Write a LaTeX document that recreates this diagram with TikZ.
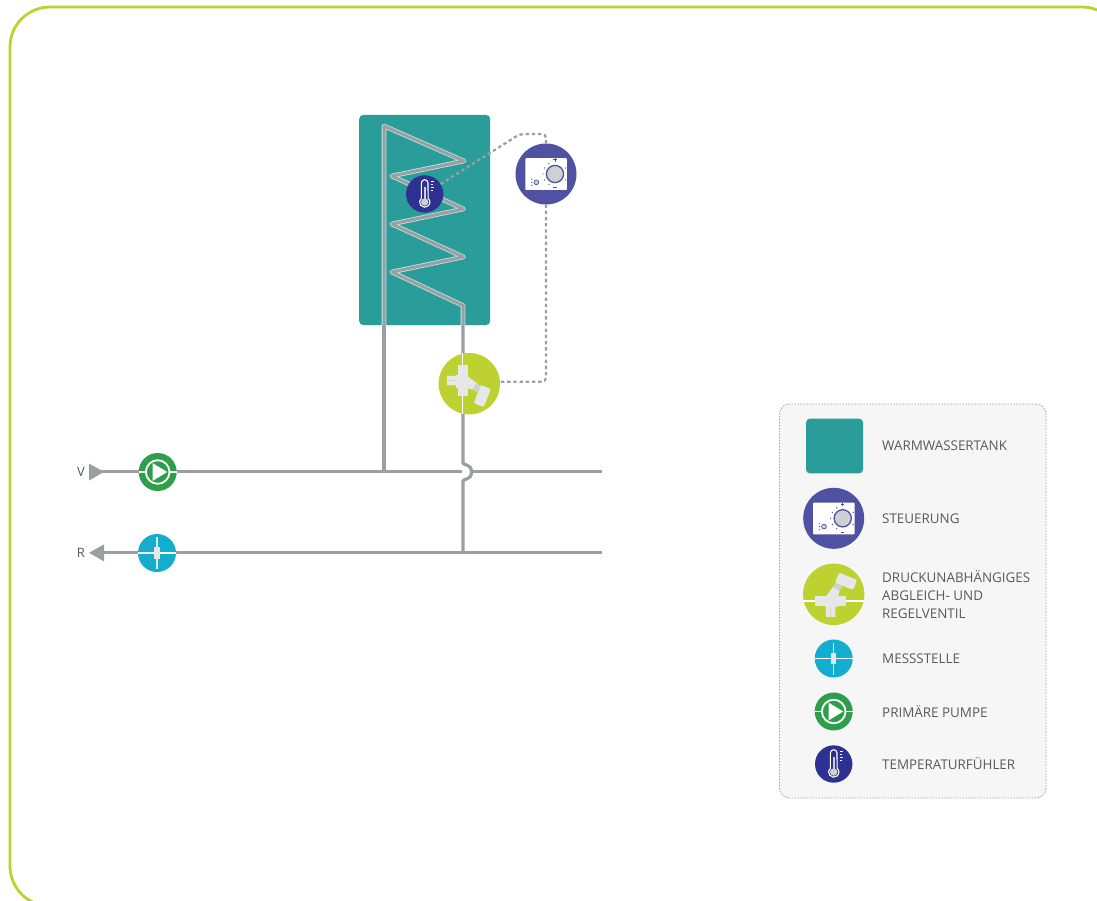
\documentclass[tikz,border=0pt]{standalone}
\usepackage{fontspec}
\setmainfont{Open Sans}
\definecolor{lime}{HTML}{BDD231}
\definecolor{tanktl}{HTML}{2A9D9A}
\definecolor{ctrlb}{HTML}{4F51A3}
\definecolor{thermb}{HTML}{2E3192}
\definecolor{pumpg}{HTML}{2E9E4A}
\definecolor{messb}{HTML}{12ADCF}
\definecolor{pipeg}{HTML}{9C9EA2}
\definecolor{lite}{HTML}{E6E7E8}
\definecolor{dial}{HTML}{CFD0D2}
\definecolor{txt}{HTML}{58595B}
\definecolor{legbg}{HTML}{F6F6F6}
\tikzset{
 disc/.style={circle,draw=none,inner sep=0pt,outer sep=0pt,minimum size=#1},
 tankbox/.style={draw=none,fill=tanktl,rounded corners=4pt,inner sep=0pt,outer sep=0pt},
 pipe/.style={draw=pipeg,line width=3.2pt},
 cased/.style={preaction={draw=white!70!tanktl,line width=4.6pt,line join=round},draw=pipeg,line width=3pt,line join=round},
 ctl/.style={draw=pipeg,line width=2.2pt,dash pattern=on 3.4pt off 2.8pt,rounded corners=4pt},
 lbl/.style={text=txt,font=\fontsize{13.4}{18}\selectfont,anchor=west,inner sep=0pt,align=left},
 pics/ctrlicon/.style={code={
   \fill[white,rounded corners=.8pt] (-20.6,-15.8) rectangle (20.8,16);
   \draw[ctrlb,fill=dial,line width=1.3pt] (9,0) circle (8.6);
   \foreach \a in {120,150,180,210,240,-30,30}{\fill[ctrlb] (\a:12)++(9,0) circle (.7);}
   \draw[ctrlb,line width=1pt] (7.3,-14)--(10.7,-14) (9,-15.7)--(9,-12.3) (7.3,13.8)--(10.7,13.8);
   \draw[ctrlb,fill=dial,line width=.7pt] (-9.7,8.3) circle (2.4);
   \foreach \y in {5.2,8.3,11.4}{\fill[ctrlb] (-14.2,\y) circle (.7);}
 }},
 pics/thermicon/.style={code={
   \draw[white,line width=1.1pt] (-3.3,4) arc (230:-50:5.2) -- (3.3,-11) arc (0:-180:3.3) -- cycle;
   \fill[dial] (0,8) circle (3.7);
   \fill[dial] (-1.2,-7) rectangle (1.2,8);
   \foreach \y/\l in {-12.5/3.2,-9.5/2.2,-6.5/3.2,-3.5/2.2}{\draw[white,line width=.9pt] (6,\y)--++(\l,0);}
 }},
 pics/pumpicon/.style={code={
   \draw[white,line width=1.5pt] (-19,0)--(-11,0) (11,0)--(19,0);
   \draw[white,line width=1.8pt] (0,0) circle (11.8);
   \fill[white] (-5,-8.8)--(9.5,0)--(-5,8.8)--cycle;
 }},
 pics/messicon/.style={code={
   \draw[white,line width=1.5pt] (-19,0)--(19,0);
   \draw[lite,line width=1.3pt] (0,-16)--(0,16);
   \fill[lite] (-2.7,-5.8) rectangle (2.7,5.8);
 }},
 pics/valveicon/.style={code={
   \draw[white,line width=1.6pt] (-30.7,6.7)--(30.7,6.7);
   \fill[lite] (-7.8,11) rectangle (-3.4,22.5) (-2.8,11) rectangle (1.6,22.5);
   \fill[lite] (-18.3,1.5) rectangle (12.3,11.8);
   \fill[lite] (-8.5,1.5) rectangle (4,13);
   \fill[lite] (-8.5,3)--(-0.5,-7.5)--(6,-3)--(4,3)--cycle;
   \fill[dial] (2,-11.5)--(8.5,-8)--(6,-3)--(-0.5,-7.5)--cycle;
   \fill[lite,rounded corners=2pt,rotate around={-22:(12.4,-13)}] (2.6,-18.4) rectangle (22.2,-7.6);
 }},
}
\begin{document}
\begin{tikzpicture}[x=1pt,y=-1pt]
\useasboundingbox (0,0) rectangle (1097,901);
\begin{scope}
\clip (0,0) rectangle (1097,901);
\draw[lime,line width=2.8pt,rounded corners=40pt] (10,7) rectangle (1122,906);
\end{scope}

% tank
\node[tankbox,minimum width=131pt,minimum height=210pt] (tank) at (424.7,220) {};

% free points of the pipe runs
\coordinate (c0) at (384,126);
\coordinate (c1) at (464,161);
\coordinate (c2) at (391.7,176);
\coordinate (c3) at (463.5,209);
\coordinate (c4) at (391.7,224);
\coordinate (c5) at (463.5,257);
\coordinate (c6) at (391.7,272);
\coordinate (c7) at (463,305.5);
\coordinate (vjoin) at (384,471.8);
\coordinate (tankout) at (384,325);
\coordinate (tankret) at (463,325);
\coordinate (vstart) at (96,471.8);
\coordinate (vend) at (602,471.8);
\coordinate (rstart) at (96,552.8);
\coordinate (rend) at (602,552.8);
\coordinate (bump1) at (463,463);
\coordinate (bump2) at (463,481);
\coordinate (rjoin) at (463,552.8);
\coordinate (vgapl) at (461.5,471.8);
\coordinate (vgapr) at (472,471.8);

% pipes
\draw[pipe] (vstart)--(vgapl);
\draw[pipe] (vgapr)--(vend);
\draw[pipe] (rstart)--(rend);
\draw[pipe] (tankout)--(vjoin);
\draw[pipe] (tankret)--(bump1) .. controls (463,465.5) and (471.5,463.5) .. (471.5,472) .. controls (471.5,480.5) and (463,478.5) .. (bump2) -- (rjoin);
\draw[cased] (tankout)--(c0)--(c1)--(c2)--(c3)--(c4)--(c5)--(c6)--(c7)--(tankret);

% arrowheads
\fill[pipeg] (89,463.6)--(104,471.8)--(89,480.6)--cycle;
\fill[pipeg] (89,552.8)--(104,544.4)--(104,561.4)--cycle;
\node[text=txt,font=\fontsize{13}{14}\selectfont,inner sep=0pt] (vlabel) at (81,471.5) {V};
\node[text=txt,font=\fontsize{13}{14}\selectfont,inner sep=0pt] (rlabel) at (81,552.5) {R};

% devices on the diagram
\node[disc=38pt,fill=pumpg] (pump) at (157.7,472) {};
\pic at (pump.center) {pumpicon};
\node[disc=38pt,fill=messb] (mess) at (157,553) {};
\pic at (mess.center) {messicon};
\node[disc=61.4pt,fill=lime] (valve) at (469.3,383.7) {};
\pic[rotate=-90] at (valve.center) {valveicon};
\node[disc=61pt,fill=ctrlb] (ctrl) at (546,174) {};
\pic at (ctrl.center) {ctrlicon};
\node[disc=37.4pt,fill=thermb] (therm) at (424.7,194) {};
\pic at (therm.center) {thermicon};

% control lines
\coordinate (k1) at (520,134);
\coordinate (k2) at (546,134);
\coordinate (k3) at (546,381.7);
\draw[ctl] (therm.32)--(k1)--(k2)--(ctrl.north);
\draw[ctl] (ctrl.south)--(k3)--(valve.east |- k3);

% legend
\node[draw=pipeg,line width=.8pt,dash pattern=on 1.5pt off 1.5pt,fill=legbg,rounded corners=10pt,inner sep=0pt,minimum width=266.5pt,minimum height=394pt] (legend) at (912.7,601) {};
\node[tankbox,minimum width=57pt,minimum height=54.8pt] (ltank) at (834.5,446) {};
\node[disc=61pt,fill=ctrlb] (lctrl) at (833.7,518.3) {};
\pic at (lctrl.center) {ctrlicon};
\node[disc=61.4pt,fill=lime] (lvalve) at (833.7,594.3) {};
\pic at (lvalve.center) {valveicon};
\node[disc=38pt,fill=messb] (lmess) at (833.7,658.5) {};
\pic at (lmess.center) {messicon};
\node[disc=38pt,fill=pumpg] (lpump) at (833.7,711.5) {};
\pic at (lpump.center) {pumpicon};
\node[disc=37.4pt,fill=thermb] (ltherm) at (833.7,764) {};
\pic at (ltherm.center) {thermicon};

\node[lbl] (t1) at (882,445.5) {WARMWASSERTANK};
\node[lbl] (t2) at (882,518.5) {STEUERUNG};
\node[lbl] (t3) at (882,594.5) {DRUCKUNABHÄNGIGES\\ABGLEICH- UND\\REGELVENTIL};
\node[lbl] (t4) at (882,658.5) {MESSSTELLE};
\node[lbl] (t5) at (882,711.5) {PRIMÄRE PUMPE};
\node[lbl] (t6) at (882,763.5) {TEMPERATURFÜHLER};
\end{tikzpicture}
\end{document}
